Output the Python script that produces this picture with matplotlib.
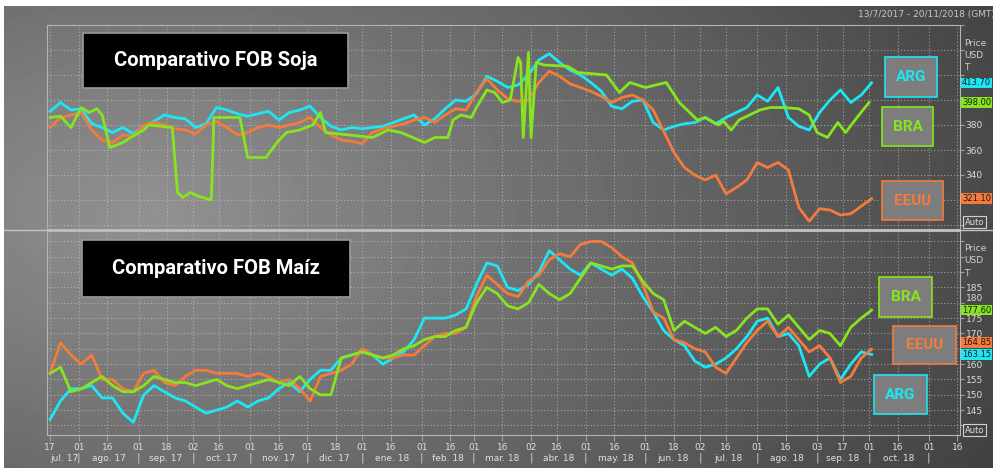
import matplotlib.pyplot as plt
import numpy as np
import pandas as pd
from matplotlib.patches import Rectangle
from matplotlib.lines import Line2D

# indice de dias habiles desde el 17/7/2017 (uno cada 4 ruedas)
t = list(range(0, 317, 4))

# FOB Soja (USD/T)
soja_arg = [391, 398, 392, 393, 381, 378, 374, 378, 373, 379,
            383, 388, 386, 385, 378, 381, 394, 392, 389, 387,
            389, 391, 384, 390, 392, 395, 386, 379, 376, 378,
            377, 378, 379, 382, 385, 388, 380, 385, 393, 400,
            399, 405, 419, 415, 410, 412, 420, 432, 437, 430,
            424, 420, 414, 407, 395, 393, 399, 400, 382, 376,
            379, 381, 382, 386, 381, 386, 390, 394, 404, 399,
            410, 386, 379, 376, 390, 400, 408, 398, 404, 413.7]
soja_eeuu = [378, 386, 388, 390, 376, 368, 366, 372, 371, 380,
             382, 380, 377, 376, 373, 380, 383, 378, 372, 374,
             378, 380, 378, 380, 382, 386, 378, 372, 368, 367,
             365, 374, 377, 379, 381, 384, 386, 382, 388, 393,
             392, 406, 417, 408, 401, 399, 400, 414, 423, 419,
             413, 410, 407, 403, 398, 402, 404, 400, 392, 375,
             358, 346, 340, 336, 340, 325, 330, 336, 350, 346,
             350, 344, 314, 303, 313, 312, 308, 309, 315, 321.1]
# Brasil tiene saltos bruscos, va con sus propias fechas
soja_bra_t = [0, 4, 8, 12, 15, 18, 20, 23, 28, 31, 36, 38, 47, 49, 51,
              54, 57, 62, 63, 73, 76, 83, 88, 91, 96, 101, 104, 106, 115, 124,
              130, 135, 144, 148, 153, 155, 158, 162, 164, 168, 171, 174, 177, 180, 181,
              182, 184, 185, 187, 190, 199, 203, 214, 219, 223, 229, 237, 242, 249, 252,
              257, 259, 262, 265, 273, 277, 282, 288, 292, 295, 299, 303, 306, 310, 315]
soja_bra = [386, 387, 378, 394, 390, 393, 388, 362, 366, 370, 376, 380, 378, 326, 322,
            326, 323, 320, 386, 386, 354, 354, 368, 374, 376, 380, 390, 374, 372, 370,
            376, 374, 366, 370, 370, 384, 388, 386, 394, 408, 406, 398, 400, 434, 430,
            370, 438, 370, 430, 428, 427, 422, 420, 406, 414, 410, 414, 398, 384, 386,
            380, 383, 376, 384, 392, 394, 394, 393, 388, 374, 370, 382, 374, 385, 398]

# FOB Maiz (USD/T)
maiz_arg = [142, 148, 152, 152, 153, 149, 149, 144, 141, 150,
            153, 151, 149, 148, 146, 144, 145, 146, 148, 146,
            148, 149, 152, 154, 151, 155, 158, 158, 162, 163,
            164, 163, 160, 162, 164, 168, 175, 175, 175, 176,
            178, 186, 193, 192, 185, 184, 186, 190, 197, 194,
            191, 189, 193, 191, 189, 191, 188, 182, 177, 171,
            168, 166, 161, 159, 160, 162, 165, 169, 174, 175,
            169, 170, 166, 156, 160, 162, 155, 160, 164, 163.15]
maiz_eeuu = [157, 167, 163, 160, 163, 155, 155, 152, 151, 157,
             158, 154, 153, 156, 158, 158, 157, 157, 157, 156,
             157, 156, 154, 155, 152, 148, 156, 157, 158, 160,
             165, 163, 162, 162, 163, 163, 166, 169, 170, 170,
             172, 182, 189, 186, 183, 182, 187, 189, 194, 196,
             195, 199, 200, 200, 198, 195, 193, 186, 177, 175,
             168, 167, 165, 164, 159, 157, 162, 167, 171, 174,
             169, 172, 168, 164, 166, 162, 154, 156, 162, 164.85]
maiz_bra = [157, 159, 151, 152, 154, 156, 153, 151, 151, 153,
            156, 155, 154, 154, 153, 154, 155, 153, 152, 153,
            154, 155, 154, 153, 156, 152, 150, 150, 162, 163,
            164, 163, 162, 163, 165, 166, 168, 169, 169, 171,
            172, 180, 185, 183, 179, 178, 180, 186, 183, 181,
            183, 188, 193, 192, 191, 192, 192, 187, 183, 181,
            171, 174, 172, 170, 172, 169, 171, 175, 178, 178,
            173, 176, 172, 168, 171, 170, 166, 172, 175, 177.6]

meses = ['jul. 17', 'ago. 17', 'sep. 17', 'oct. 17', 'nov. 17', 'dic. 17',
         'ene. 18', 'feb. 18', 'mar. 18', 'abr. 18', 'may. 18', 'jun. 18',
         'jul. 18', 'ago. 18', 'sep. 18', 'oct. 18']

CIAN = '#1de6f5'
NARANJA = '#f47b3c'
VERDE = '#88e41e'

W, H = 993, 473
fig = plt.figure(figsize=(W / 100, H / 100), dpi=100)
fig.patch.set_facecolor('white')


def fx(px):
    return px / W


def fy(py):
    return 1 - py / H


# fondo gris degradado
bg = fig.add_axes([fx(4), fy(468), fx(993) - fx(4), fy(6) - fy(468)])
bg.set_zorder(-1)
bg.set_axis_off()
xx, yy = np.meshgrid(np.linspace(0, 1, 300), np.linspace(0, 1, 150))
d = np.sqrt((xx - 0.15) ** 2 + ((yy - 0.45) * 0.8) ** 2)
bg.imshow(0.57 - 0.33 * d, cmap='gray', vmin=0, vmax=1, aspect='auto', extent=[0, 1, 0, 1])

# marcas del eje x (dias 1 y 16 de cada mes, primer dia habil)
dias = pd.bdate_range('2017-07-17', '2018-11-30')
marcas = [0]
etiquetas = ['17']
inicio_mes = []
for m in pd.date_range('2017-08-01', '2018-11-01', freq='MS'):
    for dd in (1, 16):
        i = int(dias.searchsorted(m + pd.Timedelta(days=dd - 1)))
        marcas.append(i)
        etiquetas.append(dias[i].strftime('%d'))
        if dd == 1:
            inicio_mes.append(i)

ax1 = fig.add_axes([fx(47), fy(229), fx(960) - fx(47), fy(25) - fy(229)])
ax2 = fig.add_axes([fx(47), fy(435), fx(960) - fx(47), fy(231) - fy(435)])

for ax in (ax1, ax2):
    ax.set_facecolor('none')
    ax.set_xlim(-1.2, 350)
    ax.set_xticks(marcas)
    ax.grid(True, color='#d0d0d0', linestyle=(0, (1, 2)), linewidth=0.8, alpha=0.6)
    for s in ax.spines.values():
        s.set_color('#b4b4b4')
    ax.yaxis.tick_right()
    ax.tick_params(axis='y', colors='#a0a0a0', labelcolor='#dcdcdc', labelsize=6.5, length=3, pad=1)

ax1.plot(t, soja_arg, color=CIAN, lw=2)
ax1.plot(t, soja_eeuu, color=NARANJA, lw=2)
ax1.plot(soja_bra_t, soja_bra, color=VERDE, lw=2)
ax1.set_ylim(296.8, 460)
yt1 = list(range(300, 461, 20))
ax1.set_yticks(yt1, [str(v) if v in (340, 360, 380) else '' for v in yt1])
ax1.tick_params(axis='x', length=0, labelbottom=False)

ax2.plot(t, maiz_arg, color=CIAN, lw=2)
ax2.plot(t, maiz_eeuu, color=NARANJA, lw=2)
ax2.plot(t, maiz_bra, color=VERDE, lw=2)
ax2.set_ylim(136.9, 203.4)
yt2 = list(range(140, 201, 5))
ax2.set_yticks(yt2, [str(v) if v in (145, 150, 155, 160, 170, 175, 180, 185) else '' for v in yt2])
ax2.set_xticklabels(etiquetas)
ax2.tick_params(axis='x', colors='#a0a0a0', labelcolor='#e0e0e0', labelsize=6.5, length=4, pad=2)
for lab in ax2.get_yticklabels():
    if lab.get_text() == '180':
        lab.set_va('bottom')

# nombres de meses con separadores
limites = [0] + inicio_mes
for k, nombre in enumerate(meses):
    ax2.text((limites[k] + limites[k + 1]) / 2, -0.113, nombre, transform=ax2.get_xaxis_transform(),
             ha='center', va='center', fontsize=6.5, color='#e0e0e0', clip_on=False)
for i in inicio_mes:
    ax2.text(i, -0.113, '|', transform=ax2.get_xaxis_transform(), ha='center', va='center',
             fontsize=8, color='#d0d0d0', clip_on=False)

# etiquetas de ultimo valor
def etiqueta(ax, valor, color, dy=0):
    ax.annotate('%.2f' % valor, xy=(1.002, valor), xycoords=ax.get_yaxis_transform(),
                xytext=(0, dy), textcoords='offset points', ha='left', va='center',
                fontsize=6, color='#1a1a1a', annotation_clip=False,
                bbox=dict(boxstyle='square,pad=0.1', fc=color, ec='none'))


etiqueta(ax1, soja_arg[-1], CIAN)
etiqueta(ax1, soja_bra[-1], VERDE)
etiqueta(ax1, soja_eeuu[-1], NARANJA)
etiqueta(ax2, maiz_bra[-1], VERDE)
etiqueta(ax2, maiz_eeuu[-1], NARANJA, dy=5)
etiqueta(ax2, maiz_arg[-1], CIAN)

for y0 in (43, 248):
    for j, txt in enumerate(['Price', 'USD', 'T']):
        fig.text(fx(964), fy(y0 + 12.5 * j), txt, fontsize=6.5, color='#d0d0d0', va='center')
for y0 in (222, 430):
    fig.text(fx(965), fy(y0), 'Auto', fontsize=6, color='#e0e0e0', va='center',
             bbox=dict(boxstyle='square,pad=0.2', fc='none', ec='#d0d0d0', lw=0.8))

fig.text(fx(858), fy(15), '13/7/2017 - 20/11/2018 (GMT)', fontsize=6.5, color='#c8c8c8', va='center')
fig.add_artist(Line2D([fx(4), fx(993)], [fy(230), fy(230)], color='#c4c4c4', lw=1))


# titulos y cajas de referencia
def caja(x0, y0, x1, y1, texto, color, fondo, tam, borde):
    fig.add_artist(Rectangle((fx(x0), fy(y1)), fx(x1) - fx(x0), fy(y0) - fy(y1),
                             transform=fig.transFigure, facecolor=fondo, edgecolor=borde, lw=1.2))
    fig.text(fx((x0 + x1) / 2), fy((y0 + y1) / 2), texto, ha='center', va='center',
             color=color, fontsize=tam, fontweight='bold', family='Roboto')


caja(83, 33, 348, 88, 'Comparativo FOB Soja', 'white', 'black', 14.5, '#9a9a9a')
caja(82, 240, 350, 297, 'Comparativo FOB Maíz', 'white', 'black', 14.5, '#9a9a9a')

caja(885, 57, 937, 97, 'ARG', CIAN, '#7d7d7d', 11, CIAN)
caja(882, 107, 933, 146, 'BRA', VERDE, '#7d7d7d', 11, VERDE)
caja(882, 181, 943, 220, 'EEUU', NARANJA, '#7d7d7d', 11, NARANJA)
caja(879, 277, 932, 317, 'BRA', VERDE, '#7d7d7d', 11, VERDE)
caja(893, 326, 956, 364, 'EEUU', NARANJA, '#7d7d7d', 11, NARANJA)
caja(874, 375, 927, 414, 'ARG', CIAN, '#7d7d7d', 11, CIAN)

plt.savefig('out.png', dpi=100)
